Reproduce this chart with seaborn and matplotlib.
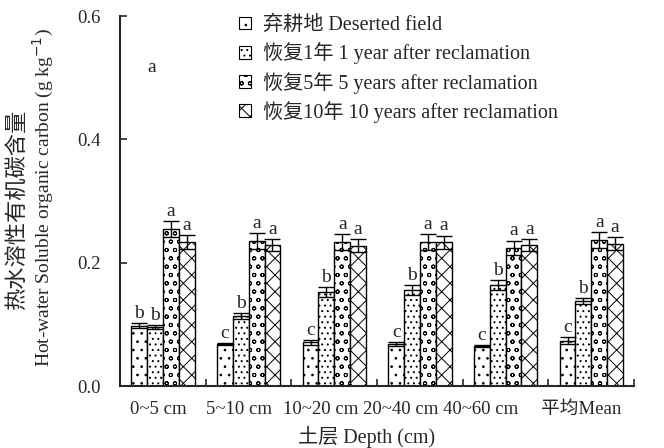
import matplotlib
matplotlib.use("Agg")
import matplotlib.pyplot as plt
import seaborn as sns
import pandas as pd
import numpy as np
from matplotlib.patches import Patch

depths = ["0~5 cm", "5~10 cm", "10~20 cm", "20~40 cm", "40~60 cm", "平均Mean"]
treatments = ["弃耕地 Deserted field",
              "恢复1年 1 year after reclamation",
              "恢复5年 5 years after reclamation",
              "恢复10年 10 years after reclamation"]
deserted = [0.098, 0.068, 0.071, 0.068, 0.065, 0.074]
year1 = [0.096, 0.114, 0.152, 0.156, 0.164, 0.138]
year5 = [0.255, 0.235, 0.233, 0.234, 0.224, 0.237]
year10 = [0.234, 0.229, 0.228, 0.233, 0.229, 0.231]
err_deserted = [0.004, 0.002, 0.004, 0.003, 0.002, 0.005]
err_year1 = [0.003, 0.005, 0.008, 0.008, 0.008, 0.005]
err_year5 = [0.013, 0.013, 0.013, 0.013, 0.012, 0.013]
err_year10 = [0.011, 0.010, 0.010, 0.011, 0.010, 0.011]
letters_deserted = ["b", "c", "c", "c", "c", "c"]
letters_year1 = ["b", "b", "b", "b", "b", "b"]
letters_year5 = ["a", "a", "a", "a", "a", "a"]
letters_year10 = ["a", "a", "a", "a", "a", "a"]
# tick label positions (labels in the original are not centred under groups)
label_pos = [-0.06, 0.89, 1.84, 2.77, 3.71, 4.88]

series = [deserted, year1, year5, year10]
errs = [err_deserted, err_year1, err_year5, err_year10]
letters = [letters_deserted, letters_year1, letters_year5, letters_year10]
hatches = ["..", "...", "oo", "xx"]

rows = []
for t, vals in zip(treatments, series):
    for d, v in zip(depths, vals):
        rows.append({"depth": d, "treatment": t, "value": v})
df = pd.DataFrame(rows)

sns.set_style("ticks")
plt.rcParams["font.family"] = ["Liberation Serif", "Noto Sans CJK SC"]
plt.rcParams["hatch.linewidth"] = 0.7

fig = plt.figure(figsize=(6.64, 4.48), dpi=100)
ax = fig.add_axes([0.181, 0.138, 0.774, 0.826])

sns.barplot(data=df, x="depth", y="value", hue="treatment", order=depths,
            hue_order=treatments, palette=["white"] * 4, edgecolor="black",
            linewidth=1.0, width=0.74, ax=ax, legend=False, errorbar=None)

bar_containers = list(ax.containers)
for i, cont in enumerate(bar_containers):
    for j, p in enumerate(cont.patches):
        p.set_hatch(hatches[i])
        p.set_edgecolor("black")
        xc = p.get_x() + p.get_width() / 2
        h = p.get_height()
        ax.errorbar(xc, h, yerr=errs[i][j], fmt="none", ecolor="black",
                    elinewidth=1.0, capsize=6, capthick=1.0)
        ax.text(xc, h + errs[i][j] + 0.002, letters[i][j], ha="center",
                va="bottom", fontsize=14)

ax.text(-0.13, 0.516, "a", ha="center", va="center", fontsize=14)

ax.set_xlim(-0.5, 5.5)
ax.set_ylim(0, 0.6)
ax.set_yticks([0.0, 0.2, 0.4, 0.6])
ax.set_yticklabels(["0.0", "0.2", "0.4", "0.6"])
ax.set_xticks(label_pos)
ax.set_xticklabels(depths)
ax.set_xticks(np.arange(-0.5, 5.6, 1.0), minor=True)
ax.tick_params(axis="x", which="major", length=0, labelsize=13.5, pad=11)
ax.tick_params(axis="x", which="minor", direction="in", length=5, width=1.2)
ax.tick_params(axis="y", direction="in", length=5, width=1.2, labelsize=13.5, pad=14)
for s in ["top", "right"]:
    ax.spines[s].set_visible(False)
for s in ["left", "bottom"]:
    ax.spines[s].set_linewidth(1.5)
ax.set_xlabel("土层 Depth (cm)", fontsize=14.5)
ax.xaxis.set_label_coords(0.479, -0.138)
ax.xaxis.label.set_verticalalignment("center")
ax.set_ylabel("")
fig.text(18 / 664, 1 - 210 / 448, "热水溶性有机碳含量", rotation=90,
         ha="center", va="center", fontsize=16)
fig.text(43 / 664, 1 - 198 / 448, "Hot-water Soluble organic carbon (g kg$^{-1}$)",
         rotation=90, ha="center", va="center", fontsize=14)

handles = [Patch(facecolor="white", edgecolor="black", hatch=h, linewidth=0.8)
           for h in hatches]
ax.legend(handles, treatments, loc="upper left", bbox_to_anchor=(0.195, 1.05),
          frameon=False, fontsize=14.5, handlelength=0.6, handleheight=0.6,
          handletextpad=0.6, labelspacing=0.36)

fig.savefig("out.png", dpi=100)
